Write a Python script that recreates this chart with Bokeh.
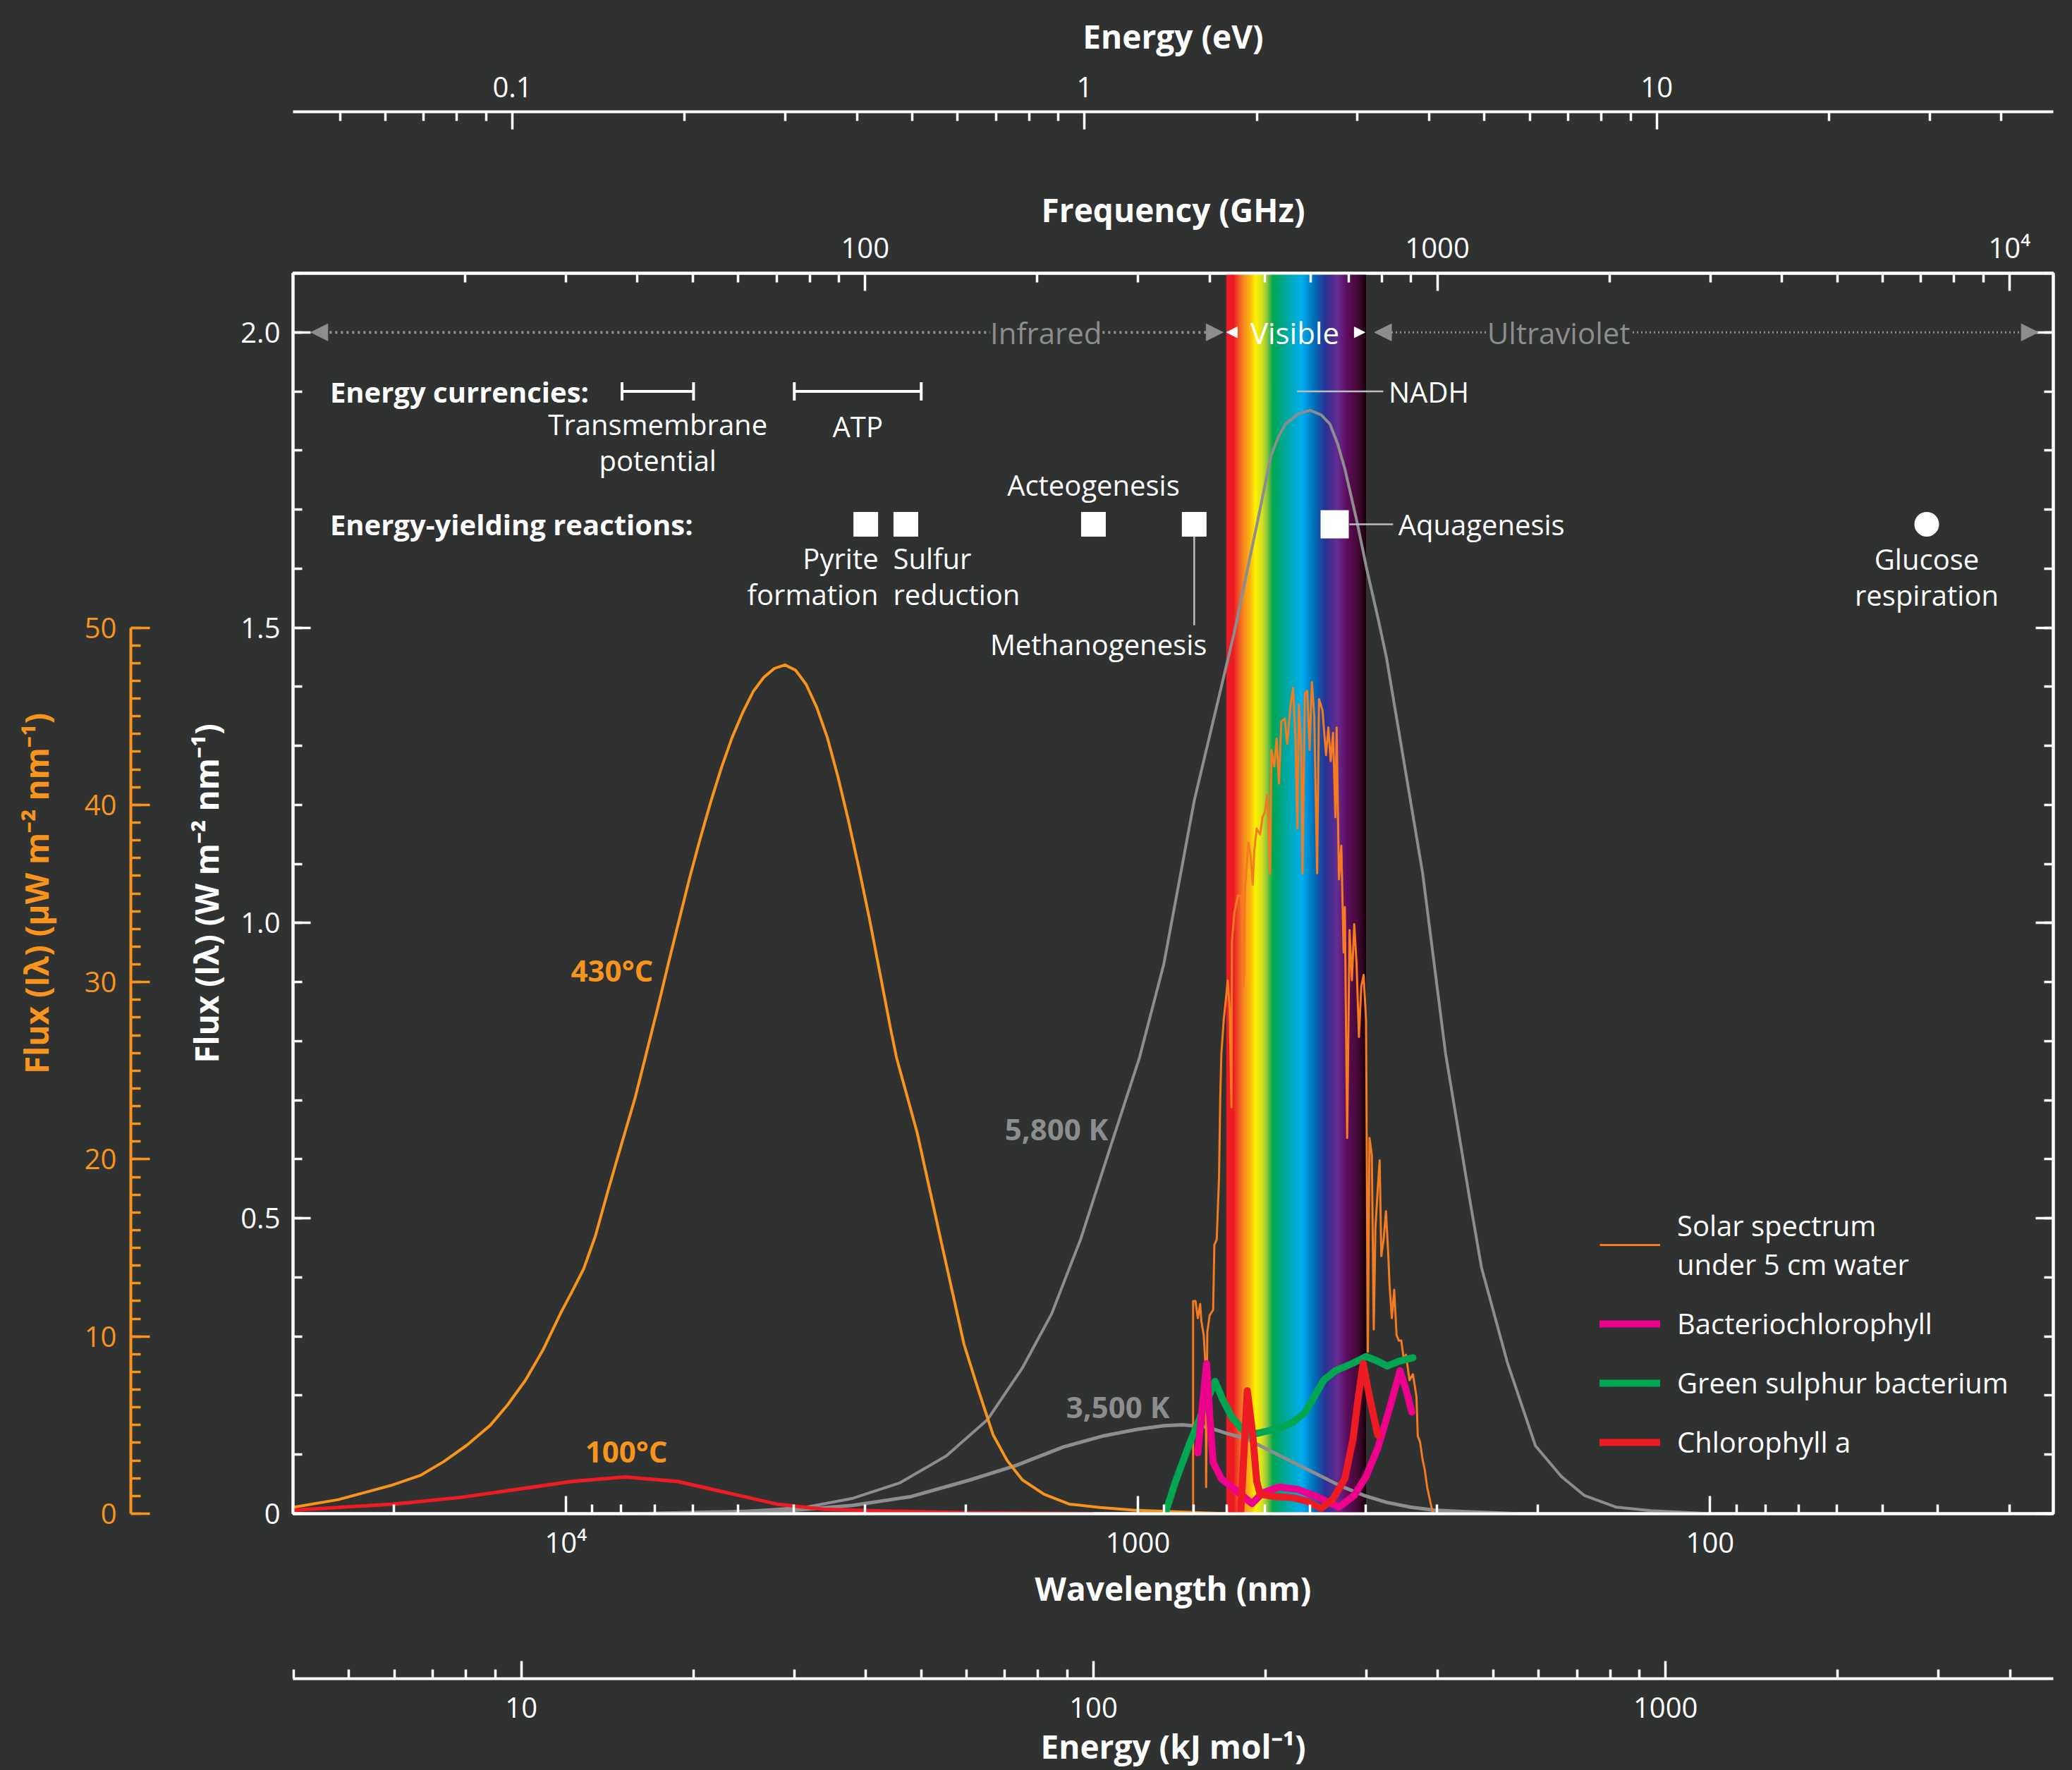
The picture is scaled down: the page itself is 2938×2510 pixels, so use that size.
import numpy as np
from bokeh.plotting import figure
from bokeh.models import (Range1d, LogAxis, LinearAxis, LogScale, FixedTicker,
                          CustomJSTickFormatter, Arrow, NormalHead, Label, Legend,
                          LegendItem, ColumnDataSource, Whisker, TeeHead)
from bokeh.core.properties import value
from bokeh.embed import file_html
from bokeh.resources import INLINE

# ---------------------------------------------------------------- data
# black-body curves, W m-2 nm-1 (white axis)
bb5800_nm = [8000, 5043, 3802, 3150, 2610, 2162, 1833, 1594, 1416, 1258, 1119, 994, 901, 797,
             701, 679, 644, 617, 586, 569, 552, 525, 500, 478, 462, 448, 435, 415, 398, 380, 368,
             318, 290, 263, 251, 226, 202, 182, 166, 146, 127, 100]
bb5800_W = [0.0, 0.003, 0.011, 0.026, 0.052, 0.098, 0.159, 0.246, 0.338, 0.466, 0.619, 0.772, 0.931, 1.208,
            1.435, 1.491, 1.598, 1.683, 1.79, 1.822, 1.845, 1.862, 1.868, 1.86, 1.845, 1.812, 1.769, 1.683,
            1.598, 1.513, 1.45, 1.084, 0.779, 0.531, 0.417, 0.255, 0.115, 0.063, 0.031, 0.011, 0.005, 0.0]

bb3500_nm = [7200, 3986, 3150, 2490, 1967, 1630, 1350, 1145, 1000, 900, 836, 760, 700, 647,
             589, 536, 487, 443, 403, 367, 334, 304, 263, 220]
bb3500_W = [0.0, 0.006, 0.014, 0.029, 0.057, 0.082, 0.113, 0.132, 0.143, 0.149, 0.1505, 0.147, 0.136, 0.127,
            0.107, 0.087, 0.067, 0.047, 0.031, 0.019, 0.011, 0.006, 0.003, 0.0]

# black-body curves, uW m-2 nm-1 (orange axis)
bb430C_nm = [29850, 25000, 20230, 17980, 16360, 14900, 13560, 12636, 11770, 10970, 10220, 9750, 9303,
             8875, 8464, 8175, 7890, 7561, 7265, 6902, 6613, 6339, 6074, 5822, 5578, 5346, 5122, 4909,
             4704, 4508, 4320, 4140, 3967, 3802, 3643, 3491, 3346, 3206, 3073, 2944, 2821, 2704, 2641,
             2432, 2213, 2014, 1902, 1792, 1693, 1593, 1460, 1319, 1164, 1018, 700]
bb430C_uW = [0.37, 0.79, 1.59, 2.15, 2.93, 3.86, 4.98, 6.15, 7.52, 9.22, 11.29, 12.54, 13.83,
             15.69, 18.08, 19.77, 21.47, 23.51, 25.73, 28.6, 31.1, 33.5, 35.9, 38.1, 40.2, 42.1, 43.8, 45.2,
             46.4, 47.2, 47.7, 47.9, 47.6, 46.8, 45.5, 43.8, 41.6, 39.1, 36.4, 33.5, 30.4, 27.3, 25.7,
             21.5, 15.5, 9.56, 7.0, 4.46, 3.0, 1.91, 1.1, 0.54, 0.35, 0.2, 0.0]

bb100C_nm = [29840, 20000, 15250, 12050, 9750, 7890, 6383, 5287, 4279, 3544, 2801, 1967, 1200]
bb100C_uW = [0.2, 0.54, 0.92, 1.39, 1.82, 2.07, 1.82, 1.22, 0.54, 0.25, 0.15, 0.05, 0.0]

# solar spectrum under 5 cm of water
solar_nm = [801, 801, 793.4, 786.0, 778.6, 774.9, 767.4, 761.6, 760.2, 756.6, 749.4, 739.0, 735.4, 728.5,
            721.7, 718.2, 714.9, 708.2, 701.5, 696.9, 691.6, 686.4, 685.1, 678.6, 669.0, 659.7, 653.5,
            650.4, 641.2, 635.1, 630.3, 626.2, 620.2, 611.6, 605.9, 600.2, 594.4, 587.8, 584.4, 577.9,
            572.4, 567.1, 561.7, 553.8, 548.6, 540.9, 535.7, 530.6, 526.7, 523.2, 518.3, 515.8, 510.9,
            506.1, 501.3, 496.6, 491.9, 486.3, 482.6, 475.9, 469.2, 464.8, 460.4, 456.1, 451.8, 449.6,
            445.4, 441.2, 437.1, 435.0, 430.9, 426.8, 422.8, 418.8, 414.9, 411.0, 407.1, 403.3, 399.4,
            396.5, 393.9, 390.2, 387.2, 384.6, 381.0, 378.1, 375.6, 372.1, 368.6, 365.1, 363.4, 360.0,
            356.6, 353.2, 349.9, 346.6, 343.4, 340.1, 335.3, 330.7, 326.0, 324.3, 321.3, 318.3, 315.3,
            312.3, 307.9, 305.0]
solar_W = [0.0, 0.36, 0.36, 0.331, 0.355, 0.326, 0.302, 0.245, 0.045, 0.307, 0.336, 0.345, 0.455, 0.464,
           0.569, 0.703, 0.779, 0.836, 0.874, 0.903, 0.855, 0.688, 0.969, 1.017, 1.046, 1.046, 0.893,
           1.055, 1.136, 1.112, 1.065, 1.122, 1.160, 1.150, 1.179, 1.188, 1.217, 1.084, 1.293, 1.265,
           1.312, 1.236, 1.341, 1.346, 1.303, 1.370, 1.398, 1.312, 1.160, 1.370, 1.293, 1.084, 1.389,
           1.393, 1.293, 1.408, 1.350, 1.084, 1.379, 1.360, 1.284, 1.331, 1.274, 1.322, 1.179, 1.331,
           1.074, 1.131, 0.950, 1.027, 0.636, 0.988, 0.903, 0.998, 0.931, 0.807, 0.893, 0.912, 0.836,
           0.274, 0.636, 0.607, 0.312, 0.483, 0.550, 0.598, 0.436, 0.464, 0.512, 0.436, 0.388, 0.331,
           0.379, 0.302, 0.293, 0.293, 0.264, 0.269, 0.226, 0.236, 0.198, 0.131, 0.121, 0.093, 0.074,
           0.045, 0.017, 0.0]

# pigment absorption spectra (drawn on the W axis)
bchl_nm = [786.0, 758.8, 749.4, 739.0, 714.9, 672.2, 632.2, 605.9, 567.1, 525.6, 487.2, 445.4, 418.8,
           399.4, 381.0, 363.4, 348.3, 340.1, 332.2]
bchl_W = [0.103, 0.254, 0.167, 0.087, 0.059, 0.039, 0.017, 0.035, 0.045, 0.041, 0.029, 0.011, 0.031,
          0.063, 0.111, 0.178, 0.242, 0.210, 0.172]
gsb_nm = [892.8, 859.6, 812.2, 767.4, 733.4, 711.5, 685.1, 644.2, 611.6, 567.1, 535.7, 510.9, 491.9,
          473.6, 451.8, 422.8, 399.4, 384.6, 366.9, 349.9, 330.7]
gsb_W = [0.005, 0.055, 0.119, 0.178, 0.224, 0.194, 0.163, 0.133, 0.137, 0.145, 0.155, 0.171, 0.198,
         0.226, 0.242, 0.254, 0.266, 0.260, 0.250, 0.258, 0.264]
chla_nm = [661.0, 644.2, 630.3, 620.2, 611.6, 577.9, 535.7, 506.1, 478.1, 456.1, 435.0, 420.7, 413.0,
           404.1, 393.9, 381.0]
chla_W = [0.005, 0.208, 0.135, 0.055, 0.033, 0.029, 0.027, 0.021, 0.009, 0.025, 0.059, 0.127, 0.190,
          0.254, 0.198, 0.133]

# spectral regions (nm)
visible_nm = [400, 700]
region_names = ["Infrared", "Visible", "Ultraviolet"]
region_label_nm = [1448, 532, 184]

# energies (kJ/mol)
currency_names = ["Transmembrane\npotential", "ATP", "NADH"]
currency_lo_kj = [15, 30, 204]
currency_hi_kj = [20, 50, 223]
reaction_names = ["Pyrite\nformation", "Sulfur\nreduction", "Acteogenesis", "Methanogenesis",
                  "Aquagenesis", "Glucose\nrespiration"]
reaction_kj = [40, 47, 100, 150, 264, 2860]

# ---------------------------------------------------------------- style
FONT = "Open Sans"
BG = "#303131"
WHITE = "#ffffff"
GRAY = "#8c8d8f"
ORANGE = "#f7941d"
SOLAR = "#f47b20"
RED = "#ed1c24"
MAGENTA = "#ec008c"
GREEN = "#00a651"
LEADER = "#bcbec0"
TICK_FS = "40px"
TITLE_FS = "46px"
TEXT_FS = "40px"

HC_EV = 1239.84      # eV * nm
C_THZ = 299792.458   # THz * nm
HC_KJ = 119626.6     # kJ/mol * nm
WL = (29979.0, 25.13)
YMAX = 2.1
UW_MAX = 70.0

p = figure(width=2930, height=2510, x_axis_type="log",
           x_range=Range1d(WL[0], WL[1]), y_range=Range1d(0, YMAX),
           output_backend="svg", toolbar_location=None,
           background_fill_color=BG, border_fill_color=BG,
           outline_line_color=WHITE, outline_line_width=4,
           min_border_left=415, min_border_top=387, min_border_right=19, min_border_bottom=364)
p.grid.visible = False

p.extra_x_ranges = {"ev": Range1d(HC_EV / WL[0], HC_EV / WL[1]),
                    "freq": Range1d(C_THZ / WL[0], C_THZ / WL[1]),
                    "kj": Range1d(HC_KJ / WL[0], HC_KJ / WL[1])}
p.extra_x_scales = {"ev": LogScale(), "freq": LogScale(), "kj": LogScale()}
p.extra_y_ranges = {"uw": Range1d(0, UW_MAX)}


def style_axis(ax, color=WHITE):
    ax.axis_line_color = color
    ax.axis_line_width = 4
    ax.major_tick_line_color = color
    ax.minor_tick_line_color = color
    ax.major_tick_line_width = 3.5
    ax.minor_tick_line_width = 3.5
    ax.major_tick_in = 25
    ax.major_tick_out = 0
    ax.minor_tick_in = 13
    ax.minor_tick_out = 0
    ax.major_label_text_color = color
    ax.major_label_text_font = FONT
    ax.major_label_text_font_size = TICK_FS
    ax.axis_label_text_color = color
    ax.axis_label_text_font = FONT
    ax.axis_label_text_font_size = TITLE_FS
    ax.axis_label_text_font_style = "bold"


def spacer(n):
    # an empty axis whose only content is a blank title, used to open a gap between axes
    return LinearAxis(ticker=FixedTicker(ticks=[]), axis_line_color=None,
                      major_tick_line_color=None, minor_tick_line_color=None,
                      major_tick_out=0, major_tick_in=0, minor_tick_in=0, minor_tick_out=0,
                      major_label_standoff=0, axis_label=" ", axis_label_standoff=n,
                      axis_label_text_font_size="4px", axis_label_text_color=BG)


def decade_minors(lo_exp, hi_exp):
    return [m * 10.0 ** e for e in range(lo_exp, hi_exp + 1) for m in range(2, 10)]


fmt_int_pow = CustomJSTickFormatter(code="""
if (Math.abs(tick - 10000) < 0.5) { return "10\\u2074"; }
return Math.round(tick).toString();
""")

# wavelength axis (bottom of frame)
xa = p.xaxis[0]
xa.ticker = FixedTicker(ticks=[100, 1000, 10000], minor_ticks=decade_minors(1, 4))
xa.formatter = fmt_int_pow
xa.axis_label = "Wavelength (nm)"
style_axis(xa)
xa.major_label_standoff = 12
xa.axis_label_standoff = 4

p.add_layout(spacer(87), "below")
kj_axis = LogAxis(x_range_name="kj", axis_label="Energy (kJ mol\u207b\u00b9)",
                  ticker=FixedTicker(ticks=[10, 100, 1000], minor_ticks=decade_minors(0, 3)),
                  formatter=CustomJSTickFormatter(code="return Math.round(tick).toString();"))
style_axis(kj_axis)
kj_axis.major_label_standoff = 26
kj_axis.axis_label_standoff = 6
p.add_layout(kj_axis, "below")

# frequency axis (top of frame)
f_axis = LogAxis(x_range_name="freq", axis_label="Frequency (GHz)",
                 ticker=FixedTicker(ticks=[10, 100, 1000, 10000], minor_ticks=decade_minors(1, 3)),
                 formatter=fmt_int_pow)
style_axis(f_axis)
f_axis.major_label_standoff = 10
f_axis.axis_label_standoff = -8
p.add_layout(f_axis, "above")
p.add_layout(spacer(96), "above")
ev_axis = LogAxis(x_range_name="ev", axis_label="Energy (eV)",
                  ticker=FixedTicker(ticks=[0.1, 1, 10], minor_ticks=decade_minors(-2, 1)),
                  formatter=CustomJSTickFormatter(code="return tick >= 1 ? Math.round(tick).toString() : tick.toString();"))
style_axis(ev_axis)
ev_axis.major_label_standoff = 21
ev_axis.axis_label_standoff = 24
p.add_layout(ev_axis, "above")

# flux axes
ya = p.yaxis[0]
ya.ticker = FixedTicker(ticks=[0, 0.5, 1.0, 1.5, 2.0],
                        minor_ticks=[round(0.1 * i, 1) for i in range(22)])
ya.formatter = CustomJSTickFormatter(code="return tick == 0 ? '0' : tick.toFixed(1);")
ya.axis_label = "Flux (I\u03bb) (W m\u207b\u00b2 nm\u207b\u00b9)"
style_axis(ya)
ya.major_label_standoff = 18
ya.axis_label_standoff = 15

p.add_layout(spacer(65), "left")
uw_axis = LinearAxis(y_range_name="uw", bounds=(0, 50),
                     axis_label="Flux (I\u03bb) (\u00b5W m\u207b\u00b2 nm\u207b\u00b9)",
                     ticker=FixedTicker(ticks=[0, 10, 20, 30, 40, 50], minor_ticks=list(range(51))),
                     formatter=CustomJSTickFormatter(code="return Math.round(tick).toString();"))
style_axis(uw_axis, ORANGE)
uw_axis.major_tick_in = 27
uw_axis.minor_tick_in = 14
uw_axis.major_label_standoff = 20
uw_axis.axis_label_standoff = 35
p.add_layout(uw_axis, "left")

r_axis = LinearAxis(ticker=FixedTicker(ticks=[0, 0.5, 1.0, 1.5, 2.0],
                                       minor_ticks=[round(0.1 * i, 1) for i in range(22)]),
                    formatter=CustomJSTickFormatter(code="return '';"))
style_axis(r_axis)
r_axis.major_label_standoff = 0
p.add_layout(r_axis, "right")

# ---------------------------------------------------------------- visible band
stops = [(400, "#1e0010"), (411, "#420a30"), (431, "#5f0f60"), (447, "#662d91"), (469, "#2e3192"),
         (492, "#0072bc"), (516, "#00aeef"), (551, "#00a99d"), (580, "#00a651"), (594, "#8dc63f"),
         (606, "#d7e021"), (623, "#fff200"), (635, "#fdb913"), (650, "#f7941d"), (665, "#f15a29"),
         (680, "#ed1c24"), (700, "#ed1c24")]
s_nm = np.array([s[0] for s in stops], dtype=float)
s_rgb = np.array([[int(s[1][i:i + 2], 16) for i in (1, 3, 5)] for s in stops], dtype=float)
edges = np.geomspace(visible_nm[1], visible_nm[0], 301)
mids = np.sqrt(edges[:-1] * edges[1:])
band_cols = []
for m in mids:
    rgb = [int(round(np.interp(m, s_nm, s_rgb[:, k]))) for k in range(3)]
    band_cols.append("#%02x%02x%02x" % tuple(rgb))
p.quad(left=edges[:-1], right=edges[1:], bottom=0, top=YMAX,
       fill_color=band_cols, line_color=band_cols, line_width=1)

# ---------------------------------------------------------------- curves
p.line(bb5800_nm, bb5800_W, line_color=GRAY, line_width=4, line_join="round")
p.line(bb3500_nm, bb3500_W, line_color=GRAY, line_width=5, line_join="round")
p.line(bb430C_nm, bb430C_uW, line_color=ORANGE, line_width=4, line_join="round", y_range_name="uw")
p.line(bb100C_nm, bb100C_uW, line_color=RED, line_width=5, line_join="round", y_range_name="uw")
r_solar = p.line(solar_nm, solar_W, line_color=SOLAR, line_width=3, line_join="round")
r_green = p.line(gsb_nm, gsb_W, line_color=GREEN, line_width=10, line_join="round", line_cap="round")
r_mag = p.line(bchl_nm, bchl_W, line_color=MAGENTA, line_width=10, line_join="round", line_cap="round")
r_chl = p.line(chla_nm, chla_W, line_color=RED, line_width=10, line_join="round", line_cap="round")

# curve labels
p.text(x=[8300, 7840], y=[0.921, 0.106], text=["430\u00b0C", "100\u00b0C"],
       text_color=ORANGE, text_font=value(FONT), text_font_size="42px", text_font_style="bold",
       text_align="center", text_baseline="middle")
p.text(x=[1388, 1084], y=[0.652, 0.1816], text=["5,800 K", "3,500 K"],
       text_color=GRAY, text_font=value(FONT), text_font_size="42px", text_font_style="bold",
       text_align="center", text_baseline="middle")

# ---------------------------------------------------------------- spectral region arrows
ir = Arrow(x_start=710, x_end=27900, y_start=2.0, y_end=2.0,
           start=NormalHead(size=24, fill_color=GRAY, line_color=GRAY),
           end=NormalHead(size=24, fill_color=GRAY, line_color=GRAY),
           line_color=GRAY, line_width=4, line_dash="3 5")
uv = Arrow(x_start=386, x_end=26.7, y_start=2.0, y_end=2.0,
           start=NormalHead(size=24, fill_color=GRAY, line_color=GRAY),
           end=NormalHead(size=24, fill_color=GRAY, line_color=GRAY),
           line_color=GRAY, line_width=3, line_dash="2 4")
vis = Arrow(x_start=visible_nm[0] * 1.003, x_end=visible_nm[1], y_start=2.0, y_end=2.0,
            start=NormalHead(size=15, fill_color=WHITE, line_color=WHITE),
            end=NormalHead(size=15, fill_color=WHITE, line_color=WHITE),
            line_alpha=0)
for a in (ir, uv, vis):
    p.add_layout(a)
for name, xnm in zip(region_names, region_label_nm):
    is_vis = name == "Visible"
    lab = Label(x=xnm, y=2.0, text=name, text_align="center", text_baseline="middle",
                text_font=FONT, text_font_size="42px",
                text_color=WHITE if is_vis else GRAY,
                background_fill_color=None if is_vis else BG)
    p.add_layout(lab)

# ---------------------------------------------------------------- energy annotations
CUR_Y = 1.9
REA_Y = 1.675
p.text(x=[4.63, 4.63], y=[CUR_Y, REA_Y], text=["Energy currencies:", "Energy-yielding reactions:"],
       x_range_name="kj", text_color=WHITE, text_font=value(FONT), text_font_size="40px",
       text_font_style="bold", text_align="left", text_baseline="middle")

wsrc = ColumnDataSource(dict(lo=currency_lo_kj, hi=currency_hi_kj, base=[CUR_Y] * 3))
p.add_layout(Whisker(source=wsrc, base="base", lower="lo", upper="hi", dimension="width",
                     x_range_name="kj", line_color=WHITE, line_width=4,
                     lower_head=TeeHead(size=26, line_color=WHITE, line_width=4),
                     upper_head=TeeHead(size=26, line_color=WHITE, line_width=4)))

# leader lines
p.segment(x0=[227, 280, reaction_kj[3]], y0=[CUR_Y, REA_Y, REA_Y],
          x1=[321, 334, reaction_kj[3]], y1=[CUR_Y, REA_Y, 1.504],
          x_range_name="kj", line_color=LEADER, line_width=2.5)

# reaction markers
p.scatter(x=reaction_kj[:5], y=[REA_Y] * 5, marker="square",
          size=[35, 35, 35, 35, 40], fill_color=WHITE, line_color=None, x_range_name="kj")
p.scatter(x=[reaction_kj[5]], y=[REA_Y], marker="circle", size=35,
          fill_color=WHITE, line_color=None, x_range_name="kj")

lab_src = ColumnDataSource(dict(
    x=[np.sqrt(currency_lo_kj[0] * currency_hi_kj[0]), np.sqrt(currency_lo_kj[1] * currency_hi_kj[1]),
       328, reaction_kj[0], reaction_kj[1], reaction_kj[2], reaction_kj[3], 341, reaction_kj[5]],
    y=[1.814, 1.841, CUR_Y, 1.587, 1.587, 1.742, 1.472, REA_Y, 1.586],
    text=[currency_names[0], currency_names[1], currency_names[2], reaction_names[0], reaction_names[1],
          reaction_names[2], reaction_names[3], reaction_names[4], reaction_names[5]],
    align=["center", "center", "left", "right", "left", "center", "right", "left", "center"],
    xoff=[0, 0, 0, 18, -18, 0, 18, 0, 0],
))
p.text(x="x", y="y", text="text", source=lab_src, x_range_name="kj",
       text_align="align", x_offset="xoff", text_color=WHITE, text_font=value(FONT),
       text_font_size=TEXT_FS, text_baseline="middle", text_line_height=0.92)

# ---------------------------------------------------------------- legend
legend = Legend(items=[
    LegendItem(label="Solar spectrum\nunder 5 cm water", renderers=[r_solar]),
    LegendItem(label="Bacteriochlorophyll", renderers=[r_mag]),
    LegendItem(label="Green sulphur bacterium", renderers=[r_green]),
    LegendItem(label="Chlorophyll a", renderers=[r_chl]),
], location=(1853, 74), orientation="vertical", glyph_width=86, glyph_height=40,
    label_standoff=24, spacing=29, padding=0, margin=0,
    label_text_font=FONT, label_text_font_size=TEXT_FS, label_text_color=WHITE,
    label_text_line_height=1.25,
    background_fill_alpha=0, border_line_alpha=0)
p.add_layout(legend)

html = file_html(p, INLINE, title="Energy spectrum")
html = html.replace("</head>", "<style>html, body { background: #303131; }</style></head>", 1)
open("out.html", "w", encoding="utf-8").write(html)
